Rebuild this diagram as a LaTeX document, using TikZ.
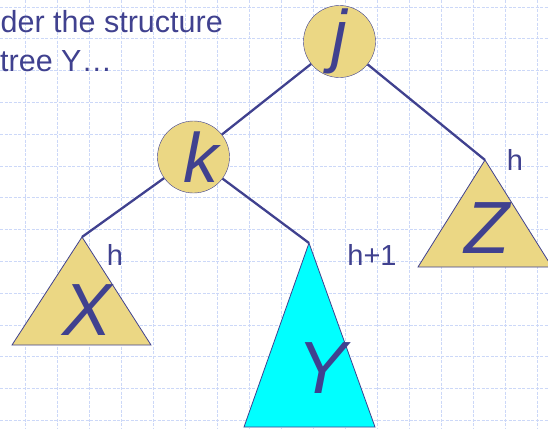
\documentclass[tikz,border=0pt]{standalone}
\usepackage{fontspec}
\setmainfont{Liberation Sans}
\definecolor{navy}{RGB}{64,65,143}
\definecolor{sand}{RGB}{235,215,132}
\definecolor{aqua}{RGB}{0,255,255}
\definecolor{gridblue}{RGB}{204,216,248}
\tikzset{
  treenode/.style={circle, draw=navy, fill=sand, minimum size=72pt, inner sep=0pt,
    text=navy, font=\fontsize{70}{70}\selectfont\itshape},
  subtree/.style={draw=navy, line width=0.8pt},
  edge/.style={navy, line width=2.3pt},
  bigletter/.style={text=navy, anchor=base, inner sep=0pt, font=\fontsize{74}{74}\selectfont\itshape},
  height/.style={text=navy, anchor=base, inner sep=0pt, font=\fontsize{29}{29}\selectfont}
}
\begin{document}
\begin{tikzpicture}[x=1pt, y=-1pt]
    \useasboundingbox (0,0) rectangle (548,429);
    % Background grid
    \fill[white] (0,0) rectangle (548,429);
    \foreach \gx in {25,57,...,537}
        \draw[gridblue, line width=0.8pt, dash pattern=on 3pt off 1.5pt] (\gx,0) -- (\gx,429);
    \foreach \gy in {7,38.8,...,425}
        \draw[gridblue, line width=0.8pt, dash pattern=on 3pt off 1.5pt] (0,\gy) -- (548,\gy);

    % Heading (cut off at the left)
    \node[anchor=base west, inner sep=0pt, text=navy, font=\fontsize{30.5}{30.5}\selectfont] (line1) at (0.5,32) {der the structure};
    \node[anchor=base west, inner sep=0pt, text=navy, font=\fontsize{30.5}{30.5}\selectfont] (line2) at (0,71) {tree Y\ldots};

    % Nodes
    \node[treenode] (j) at (339.5,41.5) {j};
    \node[treenode] (k) at (193.5,157) {\rlap{\kern-10pt k}};

    % Subtrees
    \coordinate (xtop) at (82,237);
    \coordinate (ytop) at (309,243);
    \coordinate (ztop) at (485,160);
    \filldraw[subtree, fill=sand] (xtop) -- (12,345) -- (151,345) -- cycle;
    \filldraw[subtree, fill=aqua] (ytop) -- (244,427) -- (375,427) -- cycle;
    \filldraw[subtree, fill=sand] (ztop) -- (418,267) -- (552,267) -- cycle;
    \node[bigletter] (xname) at (87,335) {X};
    \node[bigletter] (yname) at (322,393) {Y};
    \node[bigletter] (zname) at (487,253) {Z};

    % Edges
    \draw[edge] (j) -- (k);
    \draw[edge] (j) -- (ztop);
    \draw[edge] (k) -- (xtop);
    \draw[edge] (k) -- (ytop);

    % Heights
    \node[height] (hx) at (115,265) {h};
    \node[height] (hy) at (372,265) {h+1};
    \node[height] (hz) at (515,170) {h};
\end{tikzpicture}
\end{document}
